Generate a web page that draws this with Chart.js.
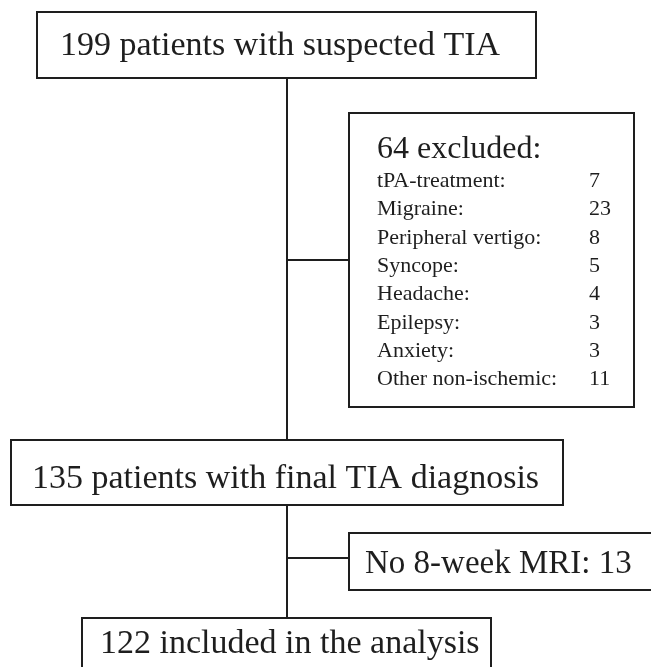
<!DOCTYPE html>
<html>
<head>
<meta charset="utf-8">
<script src="https://cdn.jsdelivr.net/npm/chart.js@4"></script>
<style>
  html, body { margin: 0; padding: 0; background: #fff; }
  #flow { display: block; }
</style>
</head>
<body>
<canvas id="flow" width="651" height="667"></canvas>
<script>
// flow counts
const stageCounts = [199, 135, 122];
const stageLabels = ['patients with suspected TIA', 'patients with final TIA diagnosis', 'included in the analysis'];

const exclusionReasons = ['tPA-treatment:', 'Migraine:', 'Peripheral vertigo:', 'Syncope:', 'Headache:', 'Epilepsy:', 'Anxiety:', 'Other non-ischemic:'];
const exclusionCounts = [7, 23, 8, 5, 4, 3, 3, 11];

const missingMriLabel = 'No 8-week MRI:';
const missingMriCount = 13;

// layout in page units (x right, y down)
const boxes = {
  screened: { x0: 37, x1: 536, y0: 12, y1: 78, tx: 60, ty: 55, size: 34 },
  excluded: { x0: 349, x1: 634, y0: 113, y1: 407, tx: 377, ty: 158, size: 32 },
  final:    { x0: 11, x1: 563, y0: 440, y1: 505, tx: 32, ty: 488, size: 34 },
  noMri:    { x0: 349, x1: 700, y0: 533, y1: 590, tx: 365, ty: 573, size: 33 },
  included: { x0: 82, x1: 491, y0: 618, y1: 720, tx: 100, ty: 653, size: 34 }
};
const spineX = 287;
const listTop = 187, listStep = 28.3, listSize = 22, countX = 589;

const serif = '"Liberation Serif", "DejaVu Serif", serif';
const ink = '#1e1e1e';

const flowPlugin = {
  id: 'flow',
  afterDraw(chart) {
    const ctx = chart.ctx;
    const sx = v => chart.scales.x.getPixelForValue(v);
    const sy = v => chart.scales.y.getPixelForValue(v);

    ctx.save();
    ctx.strokeStyle = ink;
    ctx.fillStyle = ink;
    ctx.lineWidth = 2;

    function line(x0, y0, x1, y1) {
      ctx.beginPath();
      ctx.moveTo(sx(x0), sy(y0));
      ctx.lineTo(sx(x1), sy(y1));
      ctx.stroke();
    }
    function box(b) {
      ctx.strokeRect(sx(b.x0), sy(b.y0), sx(b.x1) - sx(b.x0), sy(b.y1) - sy(b.y0));
    }
    function text(str, x, y, size) {
      ctx.font = size + 'px ' + serif;
      ctx.textBaseline = 'alphabetic';
      ctx.textAlign = 'left';
      ctx.fillText(str, sx(x), sy(y));
    }

    // connectors
    line(spineX, boxes.screened.y1, spineX, boxes.final.y0);
    line(spineX, 260, boxes.excluded.x0, 260);
    line(spineX, boxes.final.y1, spineX, boxes.included.y0);
    line(spineX, 558, boxes.noMri.x0, 558);

    Object.values(boxes).forEach(box);

    const b1 = boxes.screened, b3 = boxes.final, b5 = boxes.included, bx = boxes.excluded, b4 = boxes.noMri;
    text(stageCounts[0] + ' ' + stageLabels[0], b1.tx, b1.ty, b1.size);
    text(stageCounts[1] + ' ' + stageLabels[1], b3.tx, b3.ty, b3.size);
    text(stageCounts[2] + ' ' + stageLabels[2], b5.tx, b5.ty, b5.size);
    text(missingMriLabel + ' ' + missingMriCount, b4.tx, b4.ty, b4.size);

    const totalExcluded = exclusionCounts.reduce((a, c) => a + c, 0);
    text(totalExcluded + ' excluded:', bx.tx, bx.ty, bx.size);
    exclusionReasons.forEach((reason, i) => {
      const y = listTop + i * listStep;
      text(reason, bx.tx, y, listSize);
      text(String(exclusionCounts[i]), countX, y, listSize);
    });
    ctx.restore();
  }
};

new Chart(document.getElementById('flow').getContext('2d'), {
  type: 'scatter',
  data: { datasets: [{ data: [] }] },
  options: {
    responsive: false,
    animation: false,
    layout: { padding: 0 },
    scales: {
      x: { type: 'linear', min: 0, max: 651, display: false },
      y: { type: 'linear', min: 0, max: 667, reverse: true, display: false }
    },
    plugins: { legend: { display: false }, tooltip: { enabled: false } }
  },
  plugins: [flowPlugin]
});
</script>
</body>
</html>
